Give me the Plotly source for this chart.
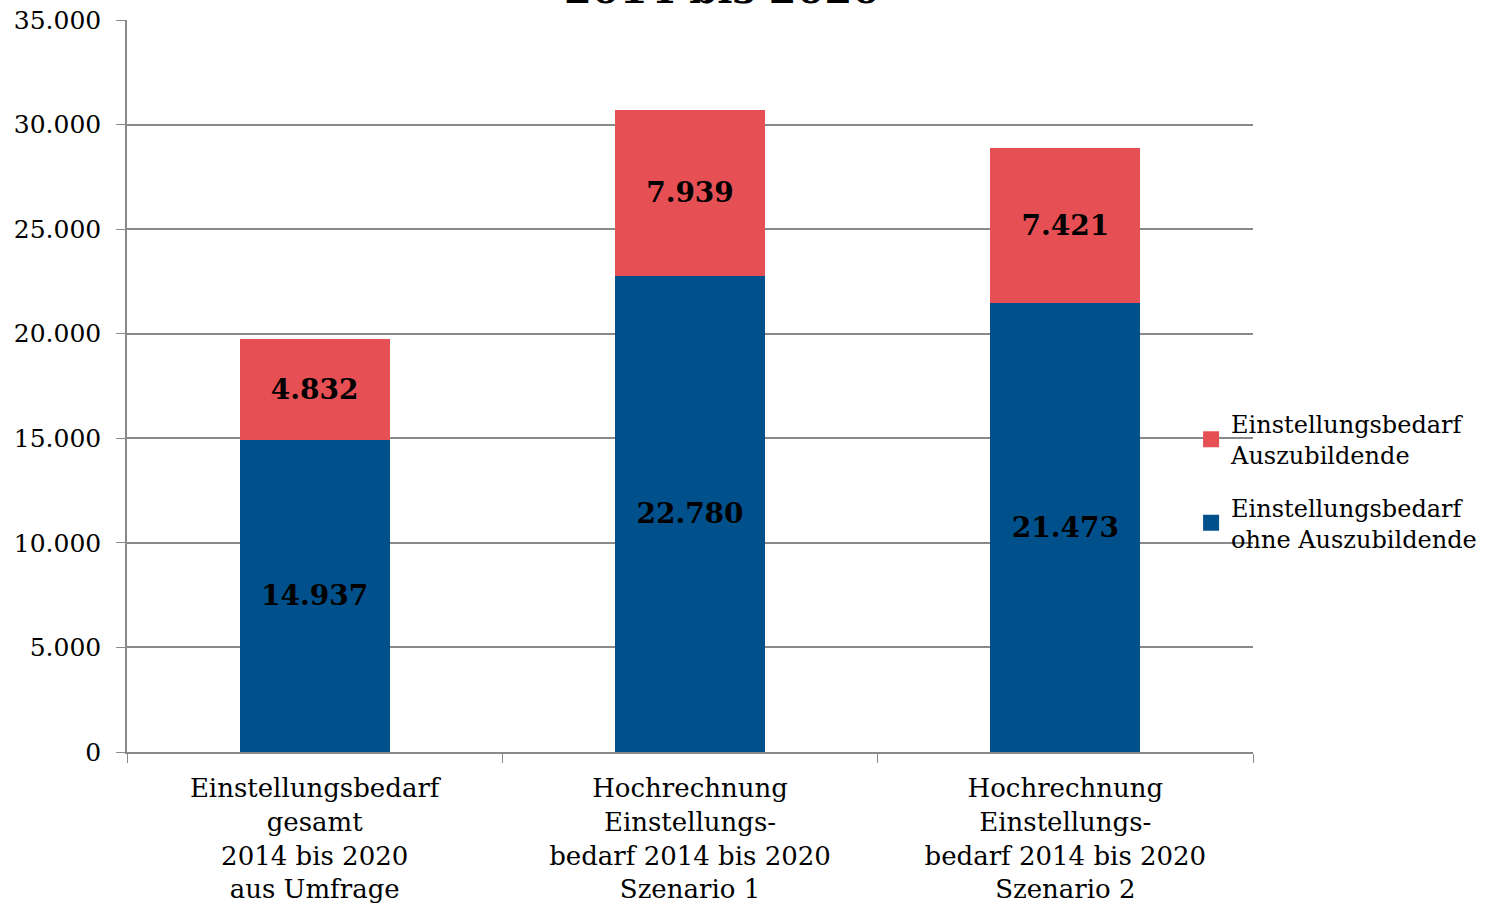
import plotly.graph_objects as go

categories = [
    "Einstellungsbedarf<br>gesamt<br>2014 bis 2020<br>aus Umfrage",
    "Hochrechnung<br>Einstellungs-<br>bedarf 2014 bis 2020<br>Szenario 1",
    "Hochrechnung<br>Einstellungs-<br>bedarf 2014 bis 2020<br>Szenario 2",
]
ohne_azubi = [14937, 22780, 21473]
azubi = [4832, 7939, 7421]
tick_vals = [0, 5000, 10000, 15000, 20000, 25000, 30000, 35000]
tick_text = ["0", "5.000", "10.000", "15.000", "20.000", "25.000", "30.000", "35.000"]
series_names = ["Einstellungsbedarf<br>ohne Auszubildende", "Einstellungsbedarf<br>Auszubildende"]
series_colors = ["#00508C", "#E65055"]


def fmt(v):
    return f"{v:,}".replace(",", ".")


FONT = "DejaVu Serif"
LABEL_FONT = dict(family="DejaVu Serif", size=28, color="black", weight="bold")

fig = go.Figure()
for vals, name, col in zip([ohne_azubi, azubi], series_names, series_colors):
    fig.add_trace(go.Bar(
        x=categories, y=vals, name=name, showlegend=False,
        marker=dict(color=col, line=dict(width=0)),
        text=[fmt(v) for v in vals], textposition="inside",
        insidetextanchor="middle", textangle=0,
        textfont=LABEL_FONT, hoverinfo="y+name",
    ))
# legend entries (top: Auszubildende, bottom: ohne Auszubildende)
for i, idx in enumerate([1, 0]):
    fig.add_trace(go.Scatter(
        x=[None], y=[None], mode="markers", name=series_names[idx],
        marker=dict(symbol="square", size=16, color=series_colors[idx]),
        legendgroup=f"g{i}", showlegend=True,
    ))

W, H = 1485, 917
fig.update_layout(
    barmode="stack",
    bargap=0.6,
    width=W, height=H,
    margin=dict(l=127, r=W - 1253, t=20, b=H - 752, autoexpand=False),
    paper_bgcolor="white", plot_bgcolor="white",
    font=dict(family=FONT, size=26, color="black"),
    showlegend=True,
    legend=dict(
        traceorder="grouped",
        x=0.945, xanchor="left", y=0.37, yanchor="middle",
        font=dict(family=FONT, size=24, color="black"),
        itemwidth=30, tracegroupgap=18,
        bgcolor="rgba(0,0,0,0)",
    ),
    uniformtext=dict(mode=False),
)
fig.update_yaxes(
    range=[0, 35000], tickvals=tick_vals, ticktext=tick_text,
    showgrid=True, gridcolor="#898989", gridwidth=1.5,
    showline=True, linecolor="#898989", linewidth=1.5,
    ticks="outside", ticklen=9, tickcolor="#898989",
    tickfont=dict(family=FONT, size=25, color="black"),
    ticklabelstandoff=10, ticklabeloverflow="allow",
    zeroline=False, automargin=False,
)
fig.update_xaxes(
    showline=True, linecolor="#898989", linewidth=1.5,
    ticks="outside", ticklen=9, tickcolor="#898989", tickson="boundaries",
    tickfont=dict(family=FONT, size=26, color="black"),
    ticklabelstandoff=12, ticklabeloverflow="allow",
    automargin=False,
)
fig.add_annotation(
    text="<b>2014 bis 2020</b>", xref="paper", yref="paper",
    x=(722 - 127) / (1253 - 127), y=1, yanchor="bottom", yshift=6,
    showarrow=False,
    font=dict(family="DejaVu Serif", size=40, color="black"),
)
fig.write_html(
    "out.html",
    config={"displayModeBar": False},
    post_script="document.body.style.margin='0';document.body.style.overflow='hidden';",
)
